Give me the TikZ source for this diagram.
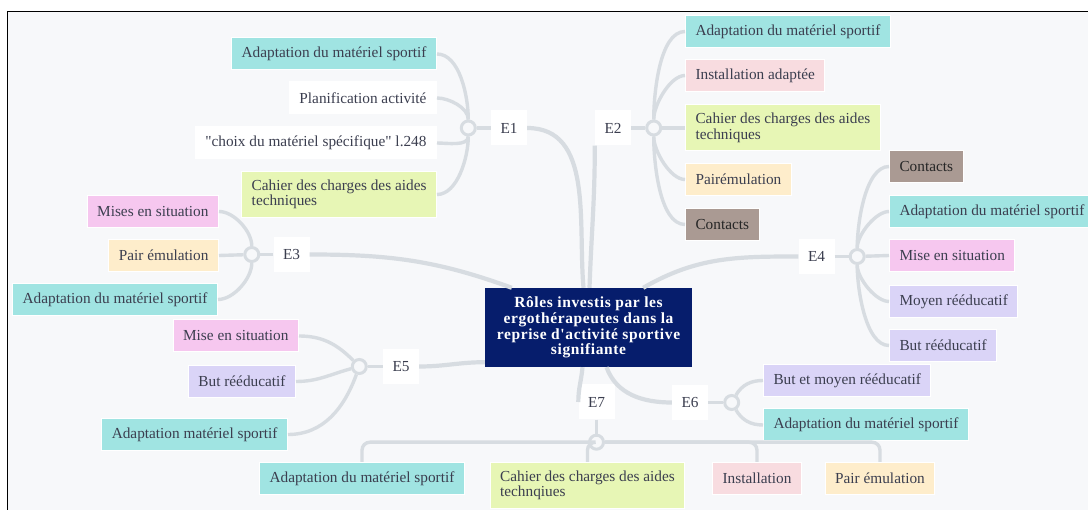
\documentclass[tikz,border=0pt]{standalone}
\usepackage{fontspec}
\newfontfamily\mapfont{Liberation Serif}
\newfontfamily\rootfont{Liberation Serif}[LetterSpace=4]
\usetikzlibrary{positioning}

\definecolor{canvas}{HTML}{F7F8FA}
\definecolor{wire}{HTML}{D7DCE1}
\definecolor{ink}{HTML}{3B3E4F}
\definecolor{navy}{HTML}{061D6C}
\definecolor{cyanbox}{HTML}{A0E4E2}
\definecolor{pinkbox}{HTML}{F6C7EF}
\definecolor{rosebox}{HTML}{F8DCE0}
\definecolor{lilacbox}{HTML}{DAD4F7}
\definecolor{creambox}{HTML}{FEEDCB}
\definecolor{limebox}{HTML}{E7F6B5}
\definecolor{brownbox}{HTML}{AA9A93}

\tikzset{
  leaf/.style={rectangle, draw=white, line width=1pt, text=ink, inner xsep=10pt, inner ysep=0pt,
    minimum height=32pt, align=left, font=\mapfont\fontsize{15.3}{15.5}\selectfont},
  tall/.style={minimum height=46pt},
  topic/.style={rectangle, fill=white, text=ink, minimum width=36pt, minimum height=35pt,
    inner sep=0pt, font=\mapfont\fontsize{15.3}{15.5}\selectfont},
  root/.style={rectangle, fill=navy, text=white, align=center, minimum width=207pt,
    minimum height=79pt, inner sep=0pt, font=\rootfont\bfseries\fontsize{15.5}{15.8}\selectfont},
  hub/.style={circle, draw=wire, line width=3pt, fill=canvas, minimum size=14pt, inner sep=0pt},
  branch/.style={draw=wire, line width=4.2pt},
  twig/.style={draw=wire, line width=3.4pt}
}

\begin{document}
\begin{tikzpicture}[x=1pt, y=1pt]

        \useasboundingbox (0,0) rectangle (1088,-510);
        \fill[canvas] (7.5,-11.5) rectangle (1088,-510);
        \draw[line width=1.5pt] (7.5,-510) -- (7.5,-11.5) -- (1088,-11.5);

        \node[root] (root) at (588.5,-327.5) {Rôles investis par les\\ergothérapeutes dans la\\reprise d'activité sportive\\signifiante};

        \node[topic] (E1) at (509,-128) {E1};
        \node[topic] (E2) at (613,-128) {E2};
        \node[topic] (E3) at (291.5,-254.5) {E3};
        \node[topic] (E4) at (816.5,-256.5) {E4};
        \node[topic] (E5) at (401,-366.5) {E5};
        \node[topic] (E6) at (690,-402.5) {E6};
        \node[topic] (E7) at (596.5,-402) {E7};

        \node[hub, left=14pt of E1] (h1) {};
        \node[hub, right=14pt of E2] (h2) {};
        \node[hub, left=13pt of E3] (h3) {};
        \node[hub, right=14pt of E4] (h4) {};
        \node[hub, left=15pt of E5] (h5) {};
        \node[hub, right=15pt of E6] (h6) {};
        \node[hub, below=14pt of E7] (h7) {};

        \draw[branch] (E1) to[out=0, in=95] ([xshift=-5pt]root.north);
        \draw[branch] ([xshift=1pt]root.north) to[out=88, in=-90] (E2.south west);
        \draw[branch] (E3) to[out=0, in=160] ([xshift=27pt]root.north west);
        \draw[branch] (E4) to[out=180, in=30] ([xshift=-49pt]root.north east);
        \draw[branch] (E5) to[out=0, in=180] ([yshift=5pt]root.south west);
        \draw[branch] ([xshift=18pt]root.south) to[out=-70, in=180] (E6);
        \draw[branch] ([xshift=-6pt]root.south) to[out=-95, in=90] (E7.west);

        \draw[twig] (E1) -- (h1);
        \draw[twig] (E2) -- (h2);
        \draw[twig] (E3) -- (h3);
        \draw[twig] (E4) -- (h4);
        \draw[twig] (E5) -- (h5);
        \draw[twig] (E6) -- (h6);
        \draw[twig] (E7) -- (h7);

        \node[leaf, fill=cyanbox, anchor=east] (c11) at (437,-54) {Adaptation du matériel sportif};
        \node[leaf, fill=white, anchor=east] (c12) at (437,-98) {Planification activité};
        \node[leaf, fill=white, anchor=east] (c13) at (437,-143) {"choix du matériel spécifique" l.248};
        \node[leaf, tall, fill=limebox, anchor=east] (c14) at (437,-194.5) {Cahier des charges des aides\\techniques};

        \draw[twig] (c11.east) to[out=0, in=90, looseness=.8] (h1);
        \draw[twig] (c12.east) to[out=0, in=90, looseness=.8] (h1);
        \draw[twig] (c13.east) to[out=0, in=-90, looseness=.8] (h1);
        \draw[twig] (c14.east) to[out=0, in=-90, looseness=.8] (h1);

        \node[leaf, fill=cyanbox, anchor=west] (c21) at (685,-31.5) {Adaptation du matériel sportif};
        \node[leaf, fill=rosebox, anchor=west] (c22) at (685,-75.5) {Installation adaptée};
        \node[leaf, tall, fill=limebox, anchor=west] (c23) at (685,-128) {Cahier des charges des aides\\techniques};
        \node[leaf, fill=creambox, anchor=west] (c24) at (685,-179.5) {Pairémulation};
        \node[leaf, fill=brownbox, text=black!85, anchor=west] (c25) at (685,-224.5) {Contacts};

        \draw[twig] (h2) to[out=90, in=180, looseness=.7] (c21.west);
        \draw[twig] (h2) to[out=90, in=180, looseness=.7] (c22.west);
        \draw[twig] (h2) -- (c23.west);
        \draw[twig] (h2) to[out=-90, in=180, looseness=.7] (c24.west);
        \draw[twig] (h2) to[out=-90, in=180, looseness=.7] (c25.west);

        \node[leaf, fill=pinkbox, anchor=east] (c31) at (219,-211.5) {Mises en situation};
        \node[leaf, fill=creambox, anchor=east] (c32) at (219,-255.5) {Pair émulation};
        \node[leaf, fill=cyanbox, anchor=east] (c33) at (218,-299.5) {Adaptation du matériel sportif};

        \draw[twig] (c31.east) to[out=0, in=90, looseness=.8] (h3);
        \draw[twig] (c32.east) -- (h3);
        \draw[twig] (c33.east) to[out=0, in=-90, looseness=.8] (h3);

        \node[leaf, fill=brownbox, text=black!85, anchor=west] (c41) at (889,-166.5) {Contacts};
        \node[leaf, fill=cyanbox, anchor=west] (c42) at (889,-211.5) {Adaptation du matériel sportif};
        \node[leaf, fill=pinkbox, anchor=west] (c43) at (889,-255.5) {Mise en situation};
        \node[leaf, fill=lilacbox, anchor=west] (c44) at (889,-301.5) {Moyen rééducatif};
        \node[leaf, fill=lilacbox, anchor=west] (c45) at (889,-345.5) {But rééducatif};

        \draw[twig] (h4) to[out=90, in=180, looseness=.7] (c41.west);
        \draw[twig] (h4) to[out=90, in=180, looseness=.7] (c42.west);
        \draw[twig] (h4) -- (c43.west);
        \draw[twig] (h4) to[out=-90, in=180, looseness=.7] (c44.west);
        \draw[twig] (h4) to[out=-90, in=180, looseness=.7] (c45.west);

        \node[leaf, fill=pinkbox, anchor=east] (c51) at (299,-336) {Mise en situation};
        \node[leaf, fill=lilacbox, anchor=east] (c52) at (296,-381.5) {But rééducatif};
        \node[leaf, fill=cyanbox, anchor=east] (c53) at (288,-434.5) {Adaptation matériel sportif};

        \draw[twig] (c51.east) to[out=0, in=135] (h5);
        \draw[twig] (c52.east) to[out=0, in=195] (h5);
        \draw[twig] (c53.east) to[out=0, in=-110] (h5);

        \node[leaf, fill=lilacbox, anchor=west] (c61) at (763,-380.5) {But et moyen rééducatif};
        \node[leaf, fill=cyanbox, anchor=west] (c62) at (763,-425) {Adaptation du matériel sportif};

        \draw[twig] (h6) to[out=60, in=180] (c61.west);
        \draw[twig] (h6) to[out=-60, in=180] (c62.west);

        \node[leaf, fill=cyanbox, anchor=north] (c71) at (362,-462) {Adaptation du matériel sportif};
        \node[leaf, tall, fill=limebox, anchor=north] (c72) at (587.5,-462) {Cahier des charges des aides\\technqiues};
        \node[leaf, fill=rosebox, anchor=north] (c73) at (757,-462) {Installation};
        \node[leaf, fill=creambox, anchor=north] (c74) at (880,-462) {Pair émulation};

        \draw[twig, rounded corners=8pt] (h7) -| (c71);
        \draw[twig, rounded corners=8pt] (h7) -| (c72);
        \draw[twig, rounded corners=8pt] (h7) -| (c73);
        \draw[twig, rounded corners=8pt] (h7) -| (c74);

    \end{tikzpicture}
\end{document}
